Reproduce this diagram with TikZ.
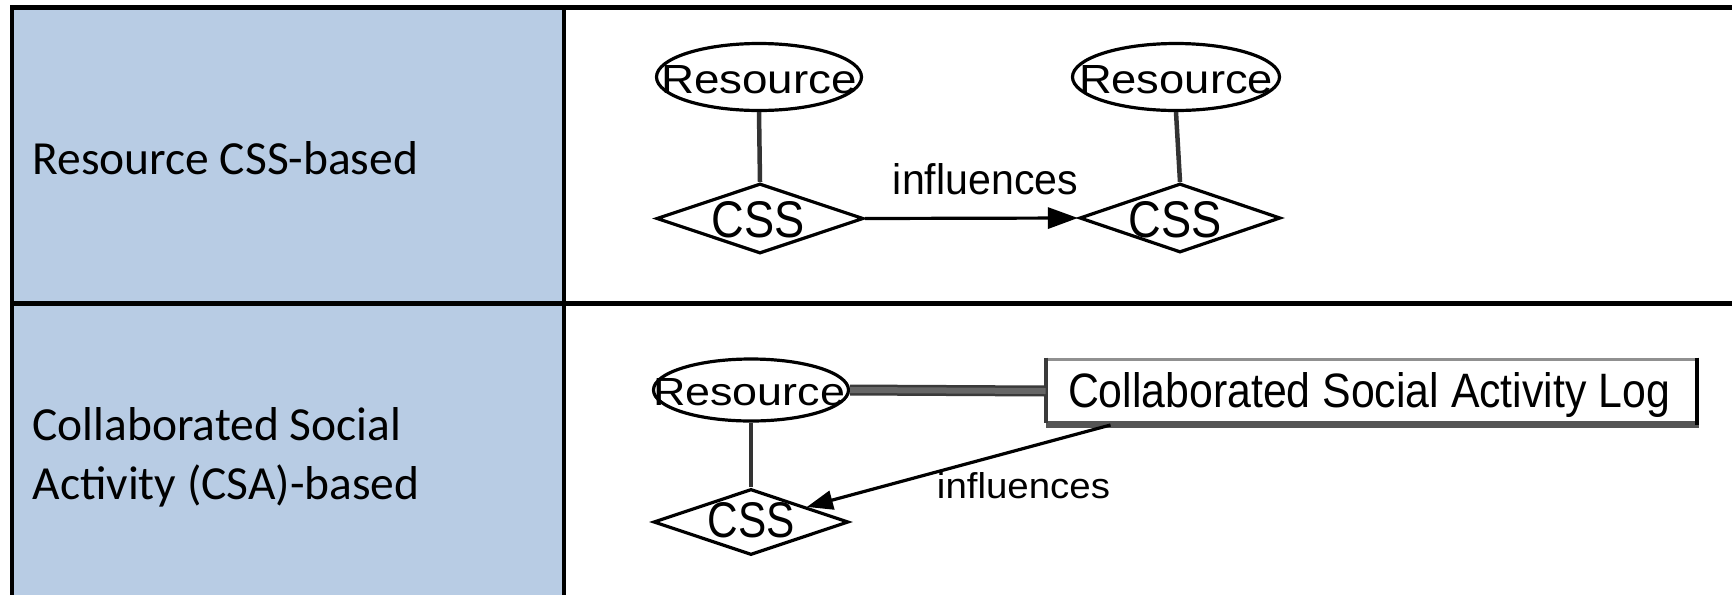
\documentclass[tikz,border=0pt]{standalone}
\usepackage{fontspec}
\setmainfont{Carlito}
\newfontfamily\arialf{Liberation Sans}
\usetikzlibrary{shapes.geometric,arrows.meta,calc}
\definecolor{cellblue}{HTML}{B8CCE4}
\definecolor{boxtop}{HTML}{909090}
\definecolor{boxshadow}{HTML}{555555}
\definecolor{linkdark}{HTML}{3A3A3A}
\definecolor{linkmid}{HTML}{666666}
\newcommand{\fitbox}[3]{\resizebox{#1pt}{#2pt}{\arialf #3}}
\begin{document}
\begin{tikzpicture}[x=1pt,y=-1pt,
  entity/.style={ellipse,draw=black,line width=3.2pt,fill=white,inner sep=0pt},
  rel/.style={diamond,draw=black,line width=3.2pt,fill=white,inner sep=0pt},
  txt/.style={inner sep=0pt,outer sep=0pt,anchor=base},
  celltxt/.style={inner sep=0pt,outer sep=0pt,anchor=base west,font=\fontsize{47.5}{58}\selectfont},
  grid/.style={line width=4.5pt,black},
  stem/.style={line width=4.5pt,draw=black!80},
  infl/.style={line width=3.2pt,draw=black}]
\useasboundingbox (0,0) rectangle (1732,595);
% table
\fill[cellblue] (12,7.5) rectangle (564,595);
\draw[grid] (10,7.5) -- (1732,7.5);
\draw[grid] (10,303.5) -- (1732,303.5);
\draw[grid] (12,5.5) -- (12,595);
\draw[grid] (564,5.5) -- (564,595);
\node[celltxt] (l1) at (32.5,174) {Resource CSS-based};
\node[celltxt] (l2) at (32.5,440) {Collaborated Social};
\node[celltxt] (l3) at (32.5,499.5) {Activity (CSA)-based};
% row 1
\node[entity,minimum width=205pt,minimum height=67pt] (e1) at (759,77) {};
\node[txt] (e1t) at ($(e1)+(0,16)$) {\fitbox{196}{28}{Resource}};
\node[entity,minimum width=207pt,minimum height=67pt] (e2) at (1176,77) {};
\node[txt] (e2t) at ($(e2)+(0,16)$) {\fitbox{194}{28}{Resource}};
\node[rel,minimum width=207pt,minimum height=70pt] (d1) at (760,218.5) {};
\node[txt] (d1t) at ($(d1)+(-1.5,18.5)$) {\fitbox{93}{36}{CSS}};
\node[rel,minimum width=201pt,minimum height=69pt] (d2) at (1180,218) {};
\node[txt] (d2t) at ($(d2)+(-5,19)$) {\fitbox{93}{36}{CSS}};
\draw[stem] (e1.south) -- (d1.north);
\draw[stem] (e2.south) -- (d2.north);
\draw[infl,-{Triangle[length=30pt,width=21pt]}] (d1.east) -- (d2.west);
\node[txt] (inf1) at (985.5,194) {\fitbox{185}{31}{influences}};
% row 2
\node[entity,minimum width=195pt,minimum height=62pt] (e3) at (751,390) {};
\node[txt] (e3t) at ($(e3)+(-2,15)$) {\fitbox{192}{27}{Resource}};
\node[rel,minimum width=195pt,minimum height=66pt] (d3) at (751,522) {};
\node[txt] (d3t) at ($(d3)+(0.5,15)$) {\fitbox{87}{35}{CSS}};
\node[inner sep=0pt,outer sep=0pt,fill=white,minimum width=651.5pt,minimum height=64pt] (box) at (1371.25,391) {};
\draw[line width=3pt,boxtop] (box.north west) -- (box.north east);
\draw[line width=7pt,boxshadow] ($(box.south west)+(0,1.5)$) -- ($(box.south east)+(2,1.5)$);
\draw[line width=4pt,linkdark] ($(box.north west)+(0,-1.5)$) -- (box.south west);
\draw[line width=4pt,black] ($(box.north east)+(0,-1.5)$) -- ($(box.south east)+(0,2)$);
\node[txt] (boxt) at (1369,407) {\fitbox{602}{35}{Collaborated Social Activity Log}};
\draw[line width=11pt,linkdark] (e3.east) -- (box.west);
\draw[line width=6pt,linkmid] (e3.east) -- (box.west);
\draw[stem] (e3.south) -- (d3.north);
\coordinate (boxfoot) at ($(box.south west)+(65,2)$);
\draw[infl,-{Triangle[length=26pt,width=19pt]}] (boxfoot) -- (d3);
\node[txt] (inf2) at (1023.5,498) {\fitbox{173}{26}{influences}};
\end{tikzpicture}
\end{document}
